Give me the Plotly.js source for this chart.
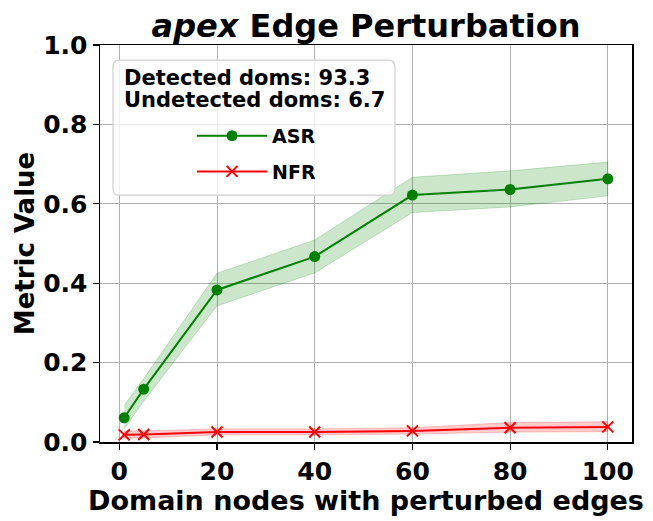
<!DOCTYPE html>
<html>
<head>
<meta charset="utf-8">
<script src="https://cdn.plot.ly/plotly-3.0.1.min.js"></script>
<style>html,body{margin:0;padding:0;background:#fff;}#chart{width:653px;height:521px;}</style>
</head>
<body>
<div id="chart"></div>
<script>
const xVals = [1, 5, 20, 40, 60, 80, 100];
const asrMean = [0.061, 0.133, 0.383, 0.467, 0.622, 0.636, 0.663];
const asrUpper = [0.092, 0.160, 0.425, 0.509, 0.667, 0.683, 0.705];
const asrLower = [0.033, 0.103, 0.343, 0.426, 0.578, 0.592, 0.620];
const nfrMean = [0.018, 0.019, 0.025, 0.025, 0.028, 0.036, 0.038];
const nfrUpper = [0.028, 0.028, 0.033, 0.033, 0.036, 0.049, 0.051];
const nfrLower = [0.010, 0.010, 0.018, 0.018, 0.020, 0.025, 0.026];
const xTicks = [0, 20, 40, 60, 80, 100];
const yTicks = [0, 0.2, 0.4, 0.6, 0.8, 1.0];
const legendTitleLines = ["Detected doms: 93.3", "Undetected doms: 6.7"];

const FONT = "DejaVu Sans, sans-serif";

function band(upper, lower, fill, edge) {
  return {
    x: xVals.concat(xVals.slice().reverse()),
    y: upper.concat(lower.slice().reverse()),
    fill: 'toself', fillcolor: fill,
    line: {color: edge, width: 1},
    mode: 'lines', hoverinfo: 'skip', showlegend: false
  };
}

const traces = [
  band(asrUpper, asrLower, 'rgba(0,128,0,0.2)', 'rgba(0,128,0,0.2)'),
  band(nfrUpper, nfrLower, 'rgba(255,0,0,0.2)', 'rgba(255,0,0,0.2)'),
  {x: xVals, y: asrMean, name: '<b>ASR</b>', legendgroup: 'a', mode: 'lines+markers',
   line: {color: '#008000', width: 2}, marker: {symbol: 'circle', size: 11, color: '#008000'}},
  {x: xVals, y: nfrMean, name: '<b>NFR</b>', legendgroup: 'b', mode: 'lines+markers',
   line: {color: '#ff0000', width: 2}, marker: {symbol: 'x-thin', size: 11, line: {color: '#ff0000', width: 2}, color: '#ff0000'}}
];

const annots = legendTitleLines.map((t, i) => ({
  xref: 'paper', yref: 'paper', x: 0.041, y: [0.917, 0.862][i], xanchor: 'left', yanchor: 'middle',
  text: '<b>' + t + '</b>', align: 'left', showarrow: false,
  font: {family: FONT, size: 21, color: '#000'}
}));

const layout = {
  width: 653, height: 521,
  margin: {l: 100, r: 21, t: 45, b: 79},
  paper_bgcolor: '#fff', plot_bgcolor: '#fff',
  font: {family: FONT, color: '#000', size: 20},
  title: {text: '<b><i>apex</i> Edge Perturbation</b>', font: {family: FONT, size: 32, color: '#000'},
          x: 0.5, xref: 'paper', y: 1, yref: 'paper', yanchor: 'bottom', pad: {b: 8}},
  xaxis: {range: [-3.95, 104.95], tickvals: xTicks, ticktext: xTicks.map(v => '<b>' + v + '</b>'),
          showgrid: true, gridcolor: '#b0b0b0', gridwidth: 1, zeroline: false,
          showline: true, linecolor: '#000', linewidth: 1.5, mirror: true,
          ticks: 'outside', ticklen: 6, tickwidth: 1.2, tickcolor: '#000',
          tickfont: {family: FONT, size: 25, color: '#000'},
          title: {text: '<b>Domain nodes with perturbed edges</b>', font: {family: FONT, size: 27, color: '#000'}, standoff: 2}},
  yaxis: {range: [0, 1], tickvals: yTicks, ticktext: yTicks.map(v => '<b>' + v.toFixed(1) + '</b>'),
          showgrid: true, gridcolor: '#b0b0b0', gridwidth: 1, zeroline: false,
          showline: true, linecolor: '#000', linewidth: 1.5, mirror: true,
          ticks: 'outside', ticklen: 6, tickwidth: 1.2, tickcolor: '#000',
          tickfont: {family: FONT, size: 25, color: '#000'},
          title: {text: '<b>Metric Value</b>', font: {family: FONT, size: 26, color: '#000'}, standoff: 1}},
  showlegend: true,
  legend: {x: 0.173, xanchor: 'left', y: 0.819, yanchor: 'top', bgcolor: 'rgba(0,0,0,0)', borderwidth: 0,
           font: {family: FONT, size: 19, color: '#000'}, itemwidth: 70, tracegroupgap: 8},
  annotations: annots,
  shapes: [{
    type: 'path', xref: 'paper', yref: 'paper',
    path: 'M 0.0244 0.944 Q 0.0244 0.962 0.035 0.962 L 0.544 0.962 Q 0.5545 0.962 0.5545 0.944 L 0.5545 0.64 Q 0.5545 0.622 0.544 0.622 L 0.035 0.622 Q 0.0244 0.622 0.0244 0.64 Z',
    fillcolor: 'rgba(255,255,255,0.8)', line: {color: '#d0d0d0', width: 1.2}, layer: 'above'
  }]
};

Plotly.newPlot('chart', traces, layout, {displayModeBar: false, staticPlot: true});
</script>
</body>
</html>
